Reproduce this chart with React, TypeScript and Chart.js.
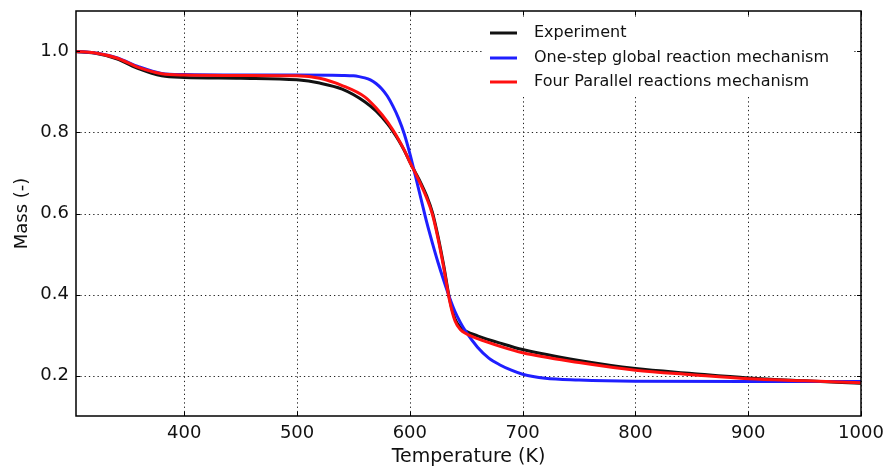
import React, { useEffect, useRef } from "react";
import { Chart, registerables } from "chart.js";

Chart.register(...registerables);

const xTicks = [400, 500, 600, 700, 800, 900, 1000];
const yTicks = [0.2, 0.4, 0.6, 0.8, 1.0];

const expTemp = [304, 320, 340, 360, 380, 400, 450, 500, 520, 540, 560, 570, 580, 585, 590, 595, 600, 605, 610, 615, 620, 625, 630, 635, 640, 645, 650, 660, 680, 700, 750, 800, 850, 900, 950, 1000];
const expMass = [1.0, 0.996, 0.982, 0.957, 0.94, 0.936, 0.934, 0.93, 0.922, 0.907, 0.876, 0.853, 0.822, 0.803, 0.781, 0.756, 0.727, 0.701, 0.674, 0.643, 0.603, 0.543, 0.472, 0.392, 0.34, 0.318, 0.309, 0.298, 0.28, 0.264, 0.237, 0.217, 0.205, 0.194, 0.187, 0.181];

const oneTemp = [304, 320, 340, 360, 380, 400, 450, 500, 540, 550, 555, 560, 565, 570, 575, 580, 585, 590, 595, 600, 605, 610, 615, 620, 625, 630, 635, 640, 645, 650, 660, 670, 680, 690, 700, 720, 750, 800, 900, 1000];
const oneMass = [1.0, 0.997, 0.985, 0.962, 0.946, 0.943, 0.942, 0.942, 0.941, 0.94, 0.938, 0.935, 0.93, 0.921, 0.908, 0.89, 0.865, 0.835, 0.797, 0.748, 0.692, 0.635, 0.578, 0.527, 0.479, 0.435, 0.394, 0.358, 0.33, 0.307, 0.27, 0.243, 0.226, 0.213, 0.203, 0.193, 0.189, 0.186, 0.185, 0.185];

const fourTemp = [304, 320, 340, 360, 380, 400, 450, 500, 520, 540, 560, 570, 580, 585, 590, 595, 600, 605, 610, 615, 620, 625, 630, 635, 640, 645, 650, 660, 680, 700, 750, 800, 850, 900, 950, 1000];
const fourMass = [1.0, 0.997, 0.984, 0.96, 0.945, 0.942, 0.941, 0.94, 0.934, 0.916, 0.888, 0.861, 0.827, 0.806, 0.783, 0.757, 0.727, 0.699, 0.67, 0.638, 0.598, 0.538, 0.467, 0.388, 0.335, 0.313, 0.303, 0.291, 0.272, 0.256, 0.232, 0.213, 0.202, 0.192, 0.187, 0.182];

const seriesNames = ["Experiment", "One-step global reaction mechanism", "Four Parallel reactions mechanism"];
const seriesColors = ["#111111", "#1f1fff", "#ff1010"];

const FONT = "'DejaVu Sans', sans-serif";

function pts(xs: number[], ys: number[]) {
  return xs.map((x, i) => ({ x, y: ys[i] }));
}

const gridPlugin = {
  id: "dottedGrid",
  beforeDatasetsDraw(chart: any) {
    const { ctx, chartArea, scales } = chart;
    ctx.save();
    ctx.strokeStyle = "#222222";
    ctx.lineWidth = 1;
    ctx.setLineDash([1.3, 3]);
    xTicks.forEach((v) => {
      const px = Math.round(scales.x.getPixelForValue(v)) + 0.5;
      ctx.beginPath();
      ctx.moveTo(px, chartArea.top);
      ctx.lineTo(px, chartArea.bottom);
      ctx.stroke();
    });
    yTicks.forEach((v) => {
      const py = Math.round(scales.y.getPixelForValue(v)) + 0.5;
      ctx.beginPath();
      ctx.moveTo(chartArea.left, py);
      ctx.lineTo(chartArea.right, py);
      ctx.stroke();
    });
    ctx.restore();
  },
};

const framePlugin = {
  id: "frameAndLegend",
  afterDraw(chart: any) {
    const { ctx, chartArea, scales } = chart;
    ctx.save();
    const lx = 483, ly = 17, lw = 370, lh = 78;
    ctx.fillStyle = "#ffffff";
    ctx.fillRect(lx, ly, lw, lh);
    ctx.font = `16px ${FONT}`;
    ctx.textBaseline = "middle";
    const rows = [33, 58, 82];
    seriesNames.forEach((name, i) => {
      ctx.strokeStyle = seriesColors[i];
      ctx.lineWidth = 3;
      ctx.beginPath();
      ctx.moveTo(490, rows[i]);
      ctx.lineTo(517, rows[i]);
      ctx.stroke();
      ctx.fillStyle = "#111111";
      ctx.fillText(name, 534, rows[i]);
    });
    // inward tick marks on all four sides
    ctx.strokeStyle = "#000000";
    ctx.lineWidth = 1;
    const tl = 4;
    xTicks.forEach((v) => {
      const px = Math.round(scales.x.getPixelForValue(v)) + 0.5;
      ctx.beginPath();
      ctx.moveTo(px, chartArea.bottom);
      ctx.lineTo(px, chartArea.bottom - tl);
      ctx.moveTo(px, chartArea.top);
      ctx.lineTo(px, chartArea.top + tl);
      ctx.stroke();
    });
    yTicks.forEach((v) => {
      const py = Math.round(scales.y.getPixelForValue(v)) + 0.5;
      ctx.beginPath();
      ctx.moveTo(chartArea.left, py);
      ctx.lineTo(chartArea.left + tl, py);
      ctx.moveTo(chartArea.right, py);
      ctx.lineTo(chartArea.right - tl, py);
      ctx.stroke();
    });
    ctx.lineWidth = 1.5;
    ctx.strokeRect(chartArea.left, chartArea.top, chartArea.right - chartArea.left, chartArea.bottom - chartArea.top);
    ctx.restore();
  },
};

const hiddenGrid: any = { display: true, color: "rgba(0,0,0,0)", drawTicks: false };

export default function App() {
  const ref = useRef<HTMLCanvasElement | null>(null);
  useEffect(() => {
    document.body.style.margin = "0";
    const ctx = ref.current!.getContext("2d")!;
    const mk = (i: number, xs: number[], ys: number[], order: number) => ({
      label: seriesNames[i],
      data: pts(xs, ys),
      borderColor: seriesColors[i],
      backgroundColor: seriesColors[i],
      borderWidth: 3,
      pointRadius: 0,
      cubicInterpolationMode: "monotone" as const,
      fill: false,
      order,
    });
    const chart = new Chart(ctx, {
      type: "line",
      data: {
        datasets: [mk(0, expTemp, expMass, 2), mk(1, oneTemp, oneMass, 1), mk(2, fourTemp, fourMass, 0)],
      },
      options: {
        animation: false,
        responsive: false,
        maintainAspectRatio: false,
        layout: { padding: { left: 12, right: 26, top: 11, bottom: 0 } },
        plugins: { legend: { display: false }, tooltip: { enabled: false } },
        scales: {
          x: {
            type: "linear",
            min: 304,
            max: 1000,
            afterBuildTicks: (axis: any) => {
              axis.ticks = xTicks.map((v) => ({ value: v }));
            },
            afterFit: (axis: any) => {
              axis.height = 52;
              axis.paddingLeft = 0;
              axis.paddingRight = 0;
            },
            border: { display: false },
            grid: hiddenGrid,
            ticks: {
              padding: 7,
              color: "#111111",
              font: { family: FONT, size: 18 },
              callback: (v: any) => String(v),
              maxRotation: 0,
            },
            title: {
              display: true,
              text: "Temperature (K)",
              color: "#111111",
              font: { family: FONT, size: 19 },
              padding: { top: 0, bottom: 0 },
            },
          },
          y: {
            type: "linear",
            min: 0.1,
            max: 1.1,
            afterBuildTicks: (axis: any) => {
              axis.ticks = yTicks.map((v) => ({ value: v }));
            },
            afterFit: (axis: any) => {
              axis.width = 64;
              axis.paddingTop = 0;
              axis.paddingBottom = 0;
            },
            border: { display: false },
            grid: hiddenGrid,
            ticks: {
              padding: 7,
              color: "#111111",
              font: { family: FONT, size: 18 },
              callback: (v: any) => Number(v).toFixed(1),
            },
            title: {
              display: true,
              text: "Mass (-)",
              color: "#111111",
              font: { family: FONT, size: 18 },
              padding: { top: 0, bottom: 2 },
            },
          },
        },
      },
      plugins: [gridPlugin, framePlugin],
    } as any);
    return () => chart.destroy();
  }, []);
  return (
    <div style={{ position: "absolute", left: 0, top: 0, width: 887, height: 468, background: "#fff" }}>
      <canvas ref={ref} width={887} height={468} style={{ width: 887, height: 468 }} />
    </div>
  );
}
